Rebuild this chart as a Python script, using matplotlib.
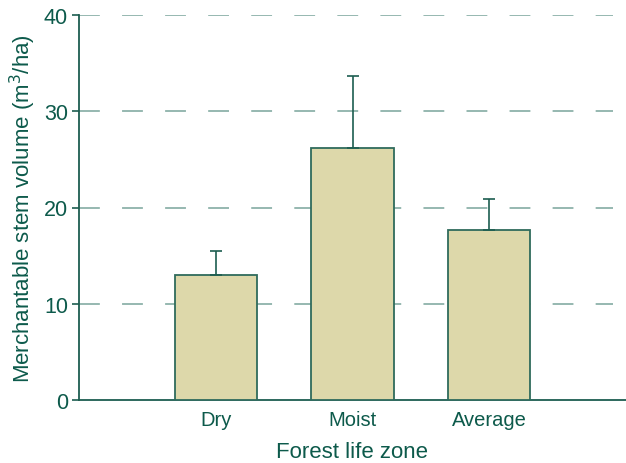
import matplotlib
matplotlib.use("Agg")
import matplotlib.pyplot as plt

plt.rcParams['font.family'] = ['Liberation Sans', 'DejaVu Sans']
plt.rcParams['lines.scale_dashes'] = False

zones = ["Dry", "Moist", "Average"]
volume = [13.0, 26.2, 17.7]
upper_err = [2.5, 7.5, 3.2]

text_color = "#0d5a4b"
axis_color = "#1d5d50"
bar_face = "#ddd8aa"
bar_edge = "#2f6b5c"
grid_color = "#96b8b0"

fig = plt.figure(figsize=(6.26, 4.64), dpi=100)
ax = fig.add_axes([79 / 626, 63 / 464, 1 - 79 / 626, 385 / 464])

x = list(range(1, len(zones) + 1))
ax.bar(x, volume, width=0.6, color=bar_face, edgecolor=bar_edge,
       linewidth=1.3, zorder=3)
ax.errorbar(x, volume, yerr=[[0] * len(zones), upper_err], fmt="none",
            ecolor=axis_color, elinewidth=1.2, capsize=4, capthick=1.2,
            zorder=4)

ax.set_xlim(0, 4)
ax.set_ylim(0, 40)
ax.set_yticks([0, 10, 20, 30, 40])
ax.set_xticks(x)
ax.set_xticklabels(zones)

for y in [10, 20, 30, 40]:
    ax.axhline(y, xmax=0.976, color=grid_color, linewidth=1.4,
               dashes=(15, 16), zorder=1)

for side in ["top", "right"]:
    ax.spines[side].set_visible(False)
for side in ["left", "bottom"]:
    ax.spines[side].set_color(axis_color)
    ax.spines[side].set_linewidth(1.3)

ax.tick_params(axis="y", colors=axis_color, labelcolor=text_color,
               labelsize=15.5, length=5, width=1.2, pad=3)
ax.tick_params(axis="x", length=0, labelcolor=text_color, labelsize=14.5,
               pad=7)

ax.set_ylabel("Merchantable stem volume (m$^3$/ha)", color=text_color,
              fontsize=16, labelpad=4)
ax.set_xlabel("Forest life zone", color=text_color, fontsize=16,
              labelpad=9)

fig.savefig("out.png", dpi=100)
